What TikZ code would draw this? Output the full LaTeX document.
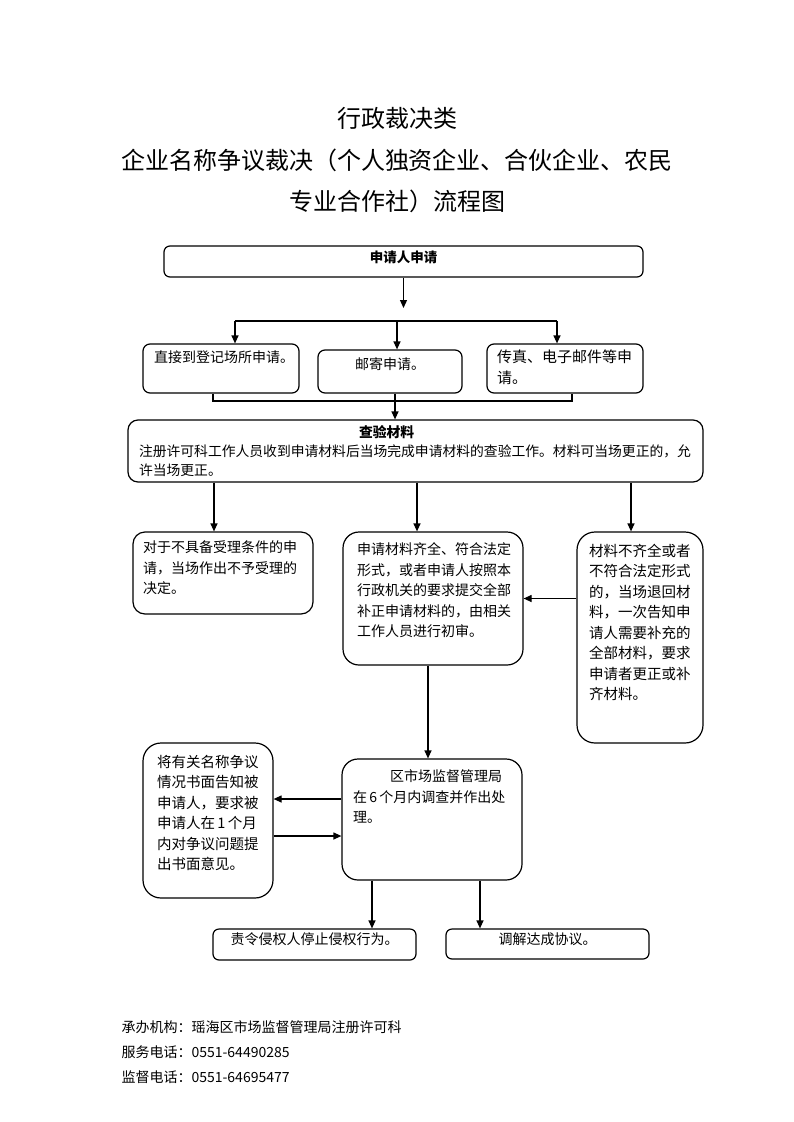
\documentclass[tikz,border=0pt]{standalone}
\usepackage{fontspec}
\setmainfont{Noto Sans CJK SC}
\usetikzlibrary{arrows.meta}
\newcommand{\flowtext}[3]{\parbox[c][#2][t]{#1}{\raggedright #3}}
\newcommand{\flowcenter}[3]{\parbox[c][#2][t]{#1}{\centering #3}}
\begin{document}
\begin{tikzpicture}
[x=1pt,y=-1pt,
  boxdecorate/.style={draw,line width=1.2pt,inner sep=0pt,rounded corners=#1},
  boxdecorate/.default=6pt,
  linedecorate/.style={line width=1.2pt},
  arrowdecorate/.style={line width=1.2pt,-{Triangle[length=8pt,width=7pt]}},
  bodyfont/.style={font=\fontsize{14}{20.5}\selectfont},
  widefont/.style={font=\fontsize{14.5}{20.5}\selectfont}]
\useasboundingbox (0,0) rectangle (793,1122);
%% title
\foreach \nodename/\y/\txt in {titleA/127/行政裁决类,
  titleB/169/企业名称争议裁决（个人独资企业、合伙企业、农民,
  titleC/210/专业合作社）流程图} {
  \node[anchor=base,font=\fontsize{24}{24}\selectfont] (\nodename) at (397,\y) {\txt};
}
%% boxes
\node (apply) [boxdecorate=6pt,inner xsep=5pt,inner ysep=5pt,
  font=\fontsize{13.5}{20}\selectfont\bfseries] at (403.5,261.5)
  {\flowcenter{469pt}{21pt}{申请人申请}};
\node (visit) [boxdecorate=7pt,inner xsep=11pt,inner ysep=7pt,bodyfont] at (221,368.5)
  {\flowtext{134pt}{35pt}{直接到登记场所申请。}};
\node (post) [boxdecorate=7pt,inner xsep=6pt,inner ysep=8pt,bodyfont] at (390,371.5)
  {\flowcenter{132pt}{27pt}{邮寄申请。}};
\node (fax) [boxdecorate=7pt,inner xsep=10pt,inner ysep=6pt,
  font=\fontsize{15}{20.5}\selectfont] at (565,368.5)
  {\flowtext{136pt}{37pt}{传真、电子邮件等申\\请。}};
\node (check) [boxdecorate=10pt,inner xsep=11pt,inner ysep=6pt,
  font=\fontsize{13.8}{19}\selectfont] at (415.5,451)
  {\flowtext{553pt}{50pt}{\hspace*{220pt}\textbf{查验材料}\\
  注册许可科工作人员收到申请材料后当场完成申请材料的查验工作。材料可当场更正的，允\\
  许当场更正。}};
\node (refuse) [boxdecorate=12pt,inner xsep=10pt,inner ysep=9pt,bodyfont] at (223,573)
  {\flowtext{160pt}{64pt}{对于不具备受理条件的申\\请，当场作出不予受理的\\决定。}};
\node (accept) [boxdecorate=16pt,inner xsep=14pt,inner ysep=11pt,bodyfont] at (433,598.5)
  {\flowtext{152pt}{111pt}{申请材料齐全、符合法定\\形式，或者申请人按照本\\
  行政机关的要求提交全部\\补正申请材料的，由相关\\工作人员进行初审。}};
\node (returned) [boxdecorate=18pt,inner xsep=12pt,inner ysep=12pt,widefont] at (640,637.5)
  {\flowtext{102pt}{187pt}{材料不齐全或者\\不符合法定形式\\的，当场退回材\\料，一次告知申\\
  请人需要补充的\\全部材料，要求\\申请者更正或补\\齐材料。}};
\node (bureau) [boxdecorate=16pt,inner xsep=11pt,inner ysep=11pt,bodyfont] at (432,819.5)
  {\flowtext{158pt}{99pt}{\hspace*{37pt}区市场监督管理局\\在\,6\,个月内调查并作出处\\理。}};
\node (notify) [boxdecorate=18pt,inner xsep=14pt,inner ysep=12pt,widefont] at (208,820.5)
  {\flowtext{102pt}{131pt}{将有关名称争议\\情况书面告知被\\申请人，要求被\\申请人在\,1\,个月\\
  内对争议问题提\\出书面意见。}};
\node (stop) [boxdecorate=6pt,inner xsep=5pt,inner ysep=4pt,bodyfont] at (314.5,944.5)
  {\flowcenter{193pt}{23pt}{责令侵权人停止侵权行为。}};
\node (mediate) [boxdecorate=6pt,inner xsep=5pt,inner ysep=4pt,bodyfont] at (547.5,944)
  {\flowcenter{193pt}{22pt}{调解达成协议。}};
%% helper points
\coordinate (applytip) at (403.5,308);
\coordinate (splitL) at (235,321);
\coordinate (splitM) at (397,321);
\coordinate (splitR) at (557,321);
\coordinate (joinL) at (213,401);
\coordinate (joinM) at (395,401);
\coordinate (joinR) at (572,401);
\coordinate (colrefuse) at (214,0);
\coordinate (colaccept) at (417,0);
\coordinate (colreturned) at (631,0);
\coordinate (colbureau) at (428,0);
\coordinate (colstop) at (372,0);
\coordinate (colmediate) at (480,0);
\coordinate (rowout) at (0,799);
\coordinate (rowback) at (0,836);
%% edges or lines
\draw[arrowdecorate] (apply.south) -- (applytip);
\draw[linedecorate] (splitL) -- (splitR);
\foreach \startnode/\endnode in {splitL/visit, splitM/post, splitR/fax} {
  \draw[arrowdecorate] (\startnode) -- (\startnode |- \endnode.north);
}
\draw[linedecorate] (joinL |- visit.south) -- (joinL) -- (joinR) -- (joinR |- fax.south);
\draw[arrowdecorate] (joinM |- post.south) -- (joinM |- check.north);
\foreach \endnode in {refuse, accept, returned} {
  \draw[arrowdecorate] (check.south -| col\endnode) -- (\endnode.north -| col\endnode);
}
\draw[arrowdecorate] (returned.west |- accept.east) -- (accept.east);
\draw[arrowdecorate] (accept.south -| colbureau) -- (bureau.north -| colbureau);
\draw[arrowdecorate] (bureau.west |- rowout) -- (notify.east |- rowout);
\draw[arrowdecorate] (notify.east |- rowback) -- (bureau.west |- rowback);
\foreach \endnode in {stop, mediate} {
  \draw[arrowdecorate] (bureau.south -| col\endnode) -- (\endnode.north -| col\endnode);
}
%% footer
\foreach \nodename/\y/\txt in {office/1032/承办机构：瑶海区市场监督管理局注册许可科,
  service/1057/服务电话：0551-64490285, supervise/1082/监督电话：0551-64695477} {
  \node[anchor=base west,bodyfont] (\nodename) at (118,\y) {\txt};
}
\end{tikzpicture}
\end{document}
